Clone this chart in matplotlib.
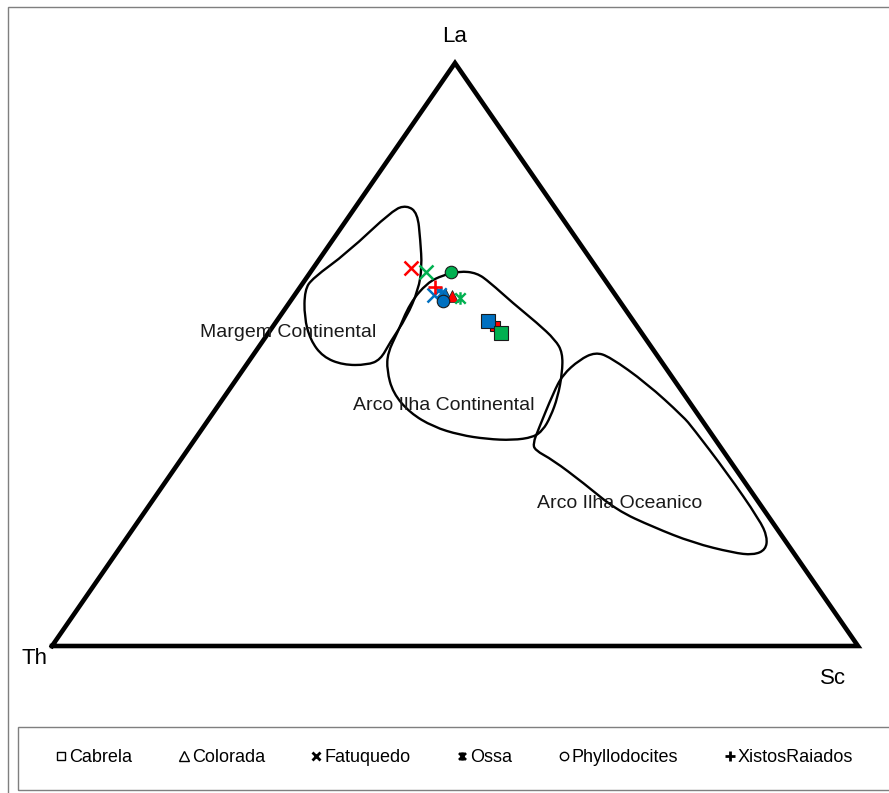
import numpy as np
import matplotlib
matplotlib.use("Agg")
import matplotlib.pyplot as plt
from matplotlib.path import Path
from matplotlib.patches import PathPatch, Rectangle
from matplotlib.lines import Line2D

plt.rcParams['font.family'] = ['Liberation Sans', 'DejaVu Sans']

# vertex labels
apex_labels = ['La', 'Th', 'Sc']

# samples as (La, Sc) fractions, Th = 1 - La - Sc
groups = ['Cabrela', 'Colorada', 'Fatuquedo', 'Ossa', 'Phyllodocites', 'XistosRaiados']
group_colors = {
    'Cabrela': ['#FF0000', '#0070C0', '#00B050'],
    'Colorada': ['#0070C0', '#FF0000'],
    'Fatuquedo': ['#FF0000', '#00B050', '#0070C0'],
    'Ossa': ['#0070C0', '#00B050'],
    'Phyllodocites': ['#00B050', '#0070C0'],
    'XistosRaiados': ['#FF0000'],
}
group_la = {
    'Cabrela': [0.549, 0.557, 0.537],
    'Colorada': [0.603, 0.600],
    'Fatuquedo': [0.648, 0.642, 0.602],
    'Ossa': [0.606, 0.597],
    'Phyllodocites': [0.642, 0.592],
    'XistosRaiados': [0.616],
}
group_sc = {
    'Cabrela': [0.275, 0.262, 0.288],
    'Colorada': [0.186, 0.196],
    'Fatuquedo': [0.121, 0.143, 0.173],
    'Ossa': [0.180, 0.208],
    'Phyllodocites': [0.174, 0.189],
    'XistosRaiados': [0.167],
}

# tectonic fields, outline as (La, Sc)
field_names = ['Margem Continental', 'Arco Ilha Continental', 'Arco Ilha Oceanico']
margem_la = [0.756, 0.743, 0.696, 0.650, 0.611, 0.564, 0.520, 0.491, 0.482, 0.482,
             0.496, 0.525, 0.564, 0.611, 0.631, 0.674, 0.748]
margem_sc = [0.062, 0.082, 0.109, 0.134, 0.149, 0.158, 0.159, 0.162, 0.150, 0.120,
             0.088, 0.058, 0.031, 0.008, 0.008, 0.029, 0.049]
arco_cont_la = [0.623, 0.636, 0.643, 0.640, 0.624, 0.588, 0.554, 0.525, 0.503, 0.468,
                0.427, 0.393, 0.370, 0.358, 0.353, 0.355, 0.362, 0.376, 0.400, 0.434,
                0.473, 0.503, 0.537, 0.588]
arco_cont_sc = [0.154, 0.167, 0.184, 0.207, 0.231, 0.278, 0.325, 0.362, 0.382, 0.399,
                0.414, 0.422, 0.424, 0.418, 0.395, 0.362, 0.325, 0.285, 0.244, 0.206,
                0.179, 0.165, 0.160, 0.150]
arco_oc_la = [0.504, 0.496, 0.451, 0.393, 0.374, 0.297, 0.216, 0.187, 0.165, 0.156,
              0.160, 0.177, 0.204, 0.233, 0.280, 0.319, 0.336, 0.348, 0.370, 0.434,
              0.465, 0.491]
arco_oc_sc = [0.422, 0.444, 0.512, 0.587, 0.608, 0.689, 0.770, 0.794, 0.803, 0.792,
              0.765, 0.707, 0.644, 0.584, 0.519, 0.462, 0.431, 0.423, 0.418, 0.405,
              0.401, 0.409]
field_la = [margem_la, arco_cont_la, arco_oc_la]
field_sc = [margem_sc, arco_cont_sc, arco_oc_sc]
label_la = [0.537, 0.413, 0.245]
label_sc = [0.025, 0.280, 0.582]


def to_xy(la, sc):
    la = np.asarray(la)
    sc = np.asarray(sc)
    return sc + la / 2.0, la


def smooth_path(x, y):
    pts = np.column_stack([x, y])
    mids = (pts + np.roll(pts, -1, axis=0)) / 2.0
    verts = [mids[-1]]
    codes = [Path.MOVETO]
    for i in range(len(pts)):
        verts += [pts[i], mids[i]]
        codes += [Path.CURVE3, Path.CURVE3]
    return Path(verts, codes)


ossa_marker = Path([(-1, -1), (1, 1), (-1, 1), (1, -1), (0, -1.2), (0, 1.2)],
                   [Path.MOVETO, Path.LINETO, Path.MOVETO, Path.LINETO, Path.MOVETO, Path.LINETO])

marker_style = {
    'Cabrela': dict(marker='s', ms=10, mec='#1a1a1a', mew=0.8),
    'Colorada': dict(marker='^', ms=8, mec='#1a1a1a', mew=0.5),
    'Fatuquedo': dict(marker='x', ms=10, mew=1.8),
    'Ossa': dict(marker=ossa_marker, ms=9, mew=1.7),
    'Phyllodocites': dict(marker='o', ms=9, mec='#1a1a1a', mew=0.8),
    'XistosRaiados': dict(marker='+', ms=10, mew=1.9),
}
legend_ms = [6, 7, 6, 6, 6, 7]

W, H = 889, 793
fig = plt.figure(figsize=(W / 100, H / 100), dpi=100)
ax = fig.add_axes([0, 0, 1, 1])
ax.set_xlim(-52 / 806, (W - 52) / 806)
ax.set_ylim(-(H - 646) / 583, 646 / 583)
ax.axis('off')

# outer frame and legend box
fig.patches.append(Rectangle((8 / W, -0.02), 1.05, 1 - 7 / H + 0.02, transform=fig.transFigure,
                             fill=False, ec='#7f7f7f', lw=1.0))
fig.patches.append(Rectangle((18 / W, 1 - 790 / H), 1.05, 63 / H, transform=fig.transFigure,
                             fill=False, ec='#7f7f7f', lw=1.0))

# triangle
tri_x = [0, 1, 0.5, 0]
tri_y = [0, 0, 1, 0]
ax.plot(tri_x, tri_y, color='black', lw=3.3, solid_joinstyle='miter', zorder=2)
ax.text(0.5, 1.0 + 26 / 583, apex_labels[0], ha='center', va='center', fontsize=16)
ax.text(-17 / 806, -12 / 583, apex_labels[1], ha='center', va='center', fontsize=16)
ax.text(1 - 25 / 806, -32 / 583, apex_labels[2], ha='center', va='center', fontsize=16)

# fields
for la, sc, name, lla, lsc in zip(field_la, field_sc, field_names, label_la, label_sc):
    x, y = to_xy(la, sc)
    ax.add_patch(PathPatch(smooth_path(x, y), fill=False, ec='black', lw=1.7, zorder=3))
    tx, ty = to_xy(lla, lsc)
    ax.text(tx, ty, name, ha='center', va='center', fontsize=14, color='#1a1a1a', zorder=4)

# samples
for g in groups:
    x, y = to_xy(group_la[g], group_sc[g])
    for xi, yi, c in zip(x, y, group_colors[g]):
        st = dict(marker_style[g])
        if g == 'Cabrela' and c == '#FF0000':
            st['ms'] = 7
        ax.plot(xi, yi, ls='none', color=c, mfc=c, zorder=5, **st)

# legend
handles = []
for g, ms in zip(groups, legend_ms):
    st = dict(marker_style[g])
    st['ms'] = ms
    st['mew'] = 1.0 if g in ('Cabrela', 'Colorada', 'Phyllodocites') else 2.0
    st['mec'] = 'black'
    st['mfc'] = 'none' if g in ('Cabrela', 'Colorada', 'Phyllodocites') else 'black'
    handles.append(Line2D([], [], ls='none', color='black', **st))
fig.legend(handles, groups, loc='center', bbox_to_anchor=(455 / W, 1 - 758 / H),
           ncol=6, frameon=False, fontsize=13, handlelength=0.5, handletextpad=0.2,
           columnspacing=2.6, borderaxespad=0)

fig.savefig('out.png', dpi=100)
